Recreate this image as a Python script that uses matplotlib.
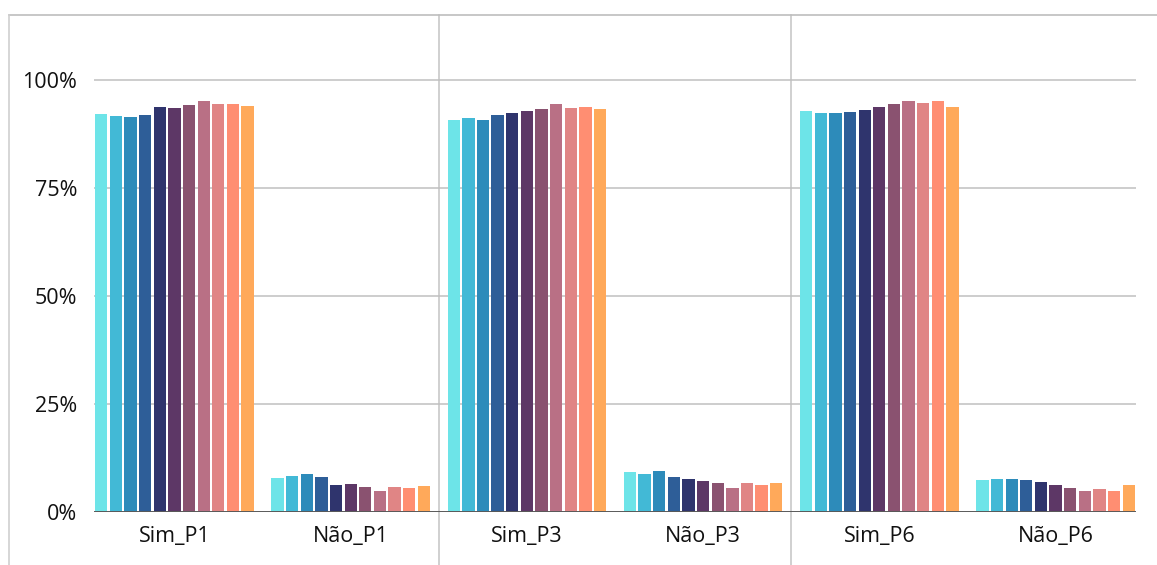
import numpy as np
import matplotlib
matplotlib.use("Agg")
import matplotlib.pyplot as plt
from matplotlib.lines import Line2D

plt.rcParams["font.family"] = ["Open Sans", "DejaVu Sans"]

# ---------------------------------------------------------------- data
categories = ["Sim_P1", "Não_P1", "Sim_P3", "Não_P3", "Sim_P6", "Não_P6"]

sim_p1 = [92.2, 91.6, 91.3, 91.9, 93.7, 93.5, 94.2, 95.1, 94.3, 94.4, 93.9]
nao_p1 = [7.8, 8.4, 8.7, 8.1, 6.3, 6.5, 5.8, 4.9, 5.7, 5.6, 6.1]
sim_p3 = [90.7, 91.1, 90.6, 91.8, 92.4, 92.8, 93.2, 94.5, 93.4, 93.7, 93.2]
nao_p3 = [9.3, 8.9, 9.4, 8.2, 7.6, 7.2, 6.8, 5.5, 6.6, 6.3, 6.8]
sim_p6 = [92.7, 92.4, 92.4, 92.6, 93.1, 93.7, 94.4, 95.2, 94.6, 95.1, 93.8]
nao_p6 = [7.3, 7.6, 7.6, 7.4, 6.9, 6.3, 5.6, 4.8, 5.4, 4.9, 6.2]

groups = [sim_p1, nao_p1, sim_p3, nao_p3, sim_p6, nao_p6]

colors = ["#6de4e8", "#42b9d6", "#2d8bba", "#2e5e98", "#2f346d", "#5d3766",
          "#8a5270", "#b97085", "#e08585", "#ff8e72", "#ffa95a"]

y_ticks = [0, 25, 50, 75, 100]

# ---------------------------------------------------------------- plot
fig = plt.figure(figsize=(11.57, 5.65), dpi=100)
ax = fig.add_axes([94 / 1157, 53 / 565, 1042 / 1157, 497 / 565])

n = len(colors)
slot = 0.083
bw = slot * 0.84
vals = np.array(groups)                      # (groups, series)
x = np.arange(len(categories))
for i, c in enumerate(colors):
    ax.bar(x + (i - (n - 1) / 2) * slot, vals[:, i], width=bw, color=c, zorder=3)

ax.set_xlim(-n / 2 * slot, len(categories) - 1 + n / 2 * slot)
ax.set_ylim(0, 115)
ax.set_yticks(y_ticks)
ax.set_yticklabels([f"{t}%" for t in y_ticks])
ax.set_xticks(x)
ax.set_xticklabels(categories)
ax.tick_params(axis="both", length=0, labelsize=15.5, colors="#111111")
ax.tick_params(axis="y", pad=12)
ax.tick_params(axis="x", pad=10)

for t in y_ticks[1:]:
    ax.axhline(t, color="#c0c0c0", lw=1.1, zorder=1)
ax.axhline(0, color="#595959", lw=1.4, zorder=4)

for s in ax.spines.values():
    s.set_visible(False)

# separators between the P1 / P3 / P6 blocks
for xs in (1.5, 3.5):
    ax.axvline(xs, ymin=-0.107, ymax=1.0, color="#c4c4c4", lw=1.1, clip_on=False, zorder=0)

# chart frame (top + left)
fig.add_artist(Line2D([9 / 1157, 1.0], [1 - 15 / 565] * 2, color="#bdbdbd", lw=1.2))
fig.add_artist(Line2D([9 / 1157] * 2, [0, 1 - 15 / 565], color="#cfcfcf", lw=1.2))

fig.savefig("out.png", dpi=100, facecolor="white")
